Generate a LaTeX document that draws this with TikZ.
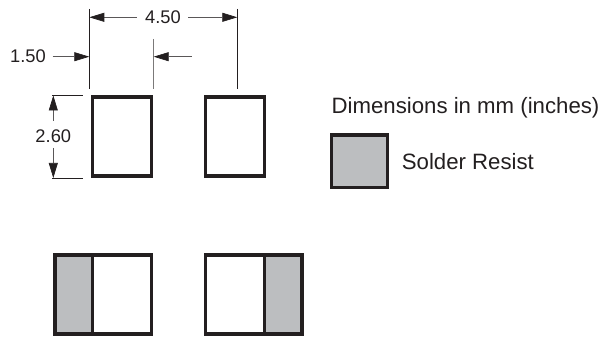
\documentclass[tikz,border=0pt]{standalone}
\usepackage{fontspec}
\setmainfont{Liberation Sans}
\usetikzlibrary{arrows.meta, positioning}
\definecolor{resist}{RGB}{188,190,192}
\definecolor{ink}{RGB}{35,31,32}
\tikzset{
    on grid,
    pad/.style={draw=ink, line width=3.3pt, inner sep=0pt, minimum width=59.3pt, minimum height=79pt},
    land/.style={pad, fill=resist, minimum width=37.3pt},
    label/.style={text=ink, font=\fontsize{18.3}{20}\selectfont, inner sep=1pt},
    legendtext/.style={label, font=\fontsize{22.2}{24}\selectfont},
    ext/.style={draw=ink, line width=0.7pt},
    dim/.style={draw=ink!75, line width=0.7pt, -{Triangle[length=15pt, width=9pt, color=ink]}},
}

\begin{document}
\begin{tikzpicture}[x=1pt, y=-1pt]
    \useasboundingbox (0,0) rectangle (605,339);

    \node[pad] (pad1) at (121.9,136.5) {};
    \node[pad, right=113pt of pad1] (pad2) {};
    \node[pad, below=158pt of pad1] (pad3) {};
    \node[pad, below=158pt of pad2] (pad4) {};
    \node[land, left=48.3pt of pad3] (land3) {};
    \node[land, right=48.3pt of pad4] (land4) {};
    \node[land, minimum width=55.6pt, minimum height=52.5pt] (key) at (359.5,161.2) {};

    \node[label] (w) at (163,17.3) {4.50};
    \node[label] (s) at (28,56.7) {1.50};
    \node[label] (h) at (53.3,136) {2.60};
    \node[legendtext, anchor=west] (title) at (330.5,107.5) {Dimensions in mm (inches)};
    \node[legendtext, anchor=west] (legend) at (400.7,162) {Solder Resist};

    % extension lines
    \coordinate (a0) at (89.3,9);
    \coordinate (a1) at (89.3,89.5);
    \coordinate (b0) at (153.7,39);
    \coordinate (b1) at (153.7,89.5);
    \coordinate (c0) at (237.3,9);
    \coordinate (c1) at (237.3,89.5);
    \coordinate (t0) at (52,95.5);
    \coordinate (t1) at (83,95.5);
    \coordinate (u0) at (52,178);
    \coordinate (u1) at (83,178);
    \coordinate (r0) at (191.7,56.7);
    \path[ext]
        (a0) edge (a1)
        (c0) edge (c1)
        (t0) edge (t1)
        (u0) edge (u1);
    \draw[ext, draw=ink!60] (b0) -- (b1);

    % dimension arrows
    \draw[dim] (w.west) ++(-7,0) -- (w.west -| a0);
    \draw[dim] (w.east) ++(6,0) -- (w.east -| c0);
    \draw[dim] (s.east) ++(5.5,0) -- (s.east -| a0);
    \draw[dim] (r0) -- (r0 -| b0);
    \draw[dim] (h.center) ++(0,-15.3) -- (h.center |- t0);
    \draw[dim] (h.center) ++(0,12) -- (h.center |- u0);
\end{tikzpicture}
\end{document}
